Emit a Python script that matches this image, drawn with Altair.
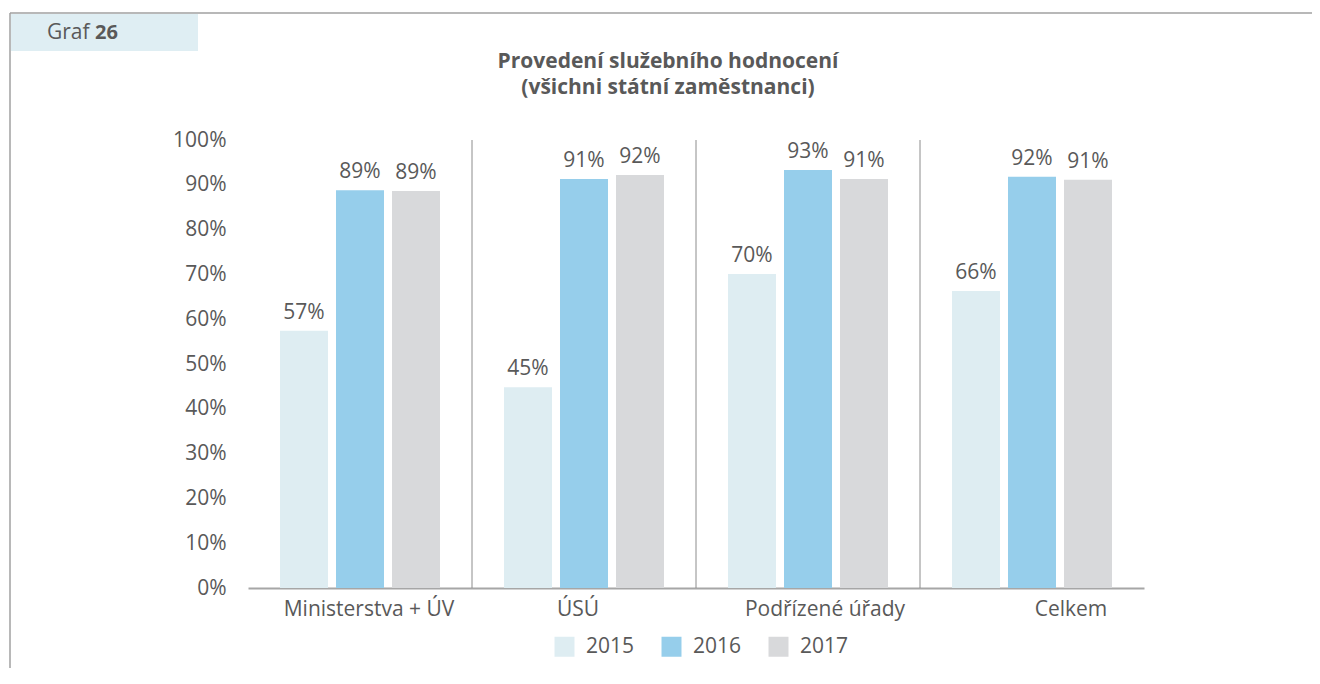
import altair as alt
import pandas as pd

categories = ["Ministerstva + ÚV", "ÚSÚ", "Podřízené úřady", "Celkem"]
years = ["2015", "2016", "2017"]
values_2015 = [0.574, 0.448, 0.701, 0.663]
values_2016 = [0.888, 0.913, 0.933, 0.918]
values_2017 = [0.886, 0.922, 0.913, 0.911]
y_ticks = [0.0, 0.1, 0.2, 0.3, 0.4, 0.5, 0.6, 0.7, 0.8, 0.9, 1.0]
title_line1 = "Provedení služebního hodnocení"
title_line2 = "(všichni státní zaměstnanci)"
colors = ["#DEEDF2", "#96CEEB", "#D8D9DB"]

rows = []
for i, c in enumerate(categories):
    for yr, vals in zip(years, [values_2015, values_2016, values_2017]):
        rows.append({"category": c, "year": yr, "value": vals[i]})
df = pd.DataFrame(rows)

FONT = "Open Sans"
TEXT = "#595959"
FS = 21

x_axis = alt.Axis(
    title=None, labelAngle=0, labelFontSize=FS, labelColor=TEXT, labelFont=FONT,
    labelPadding=10, ticks=False, domain=True, domainColor="#A6A6A6", domainWidth=2,
    grid=False,
    labelOffset={"condition": [
        {"test": "datum.value === 'Ministerstva + ÚV'", "value": 9},
        {"test": "datum.value === 'ÚSÚ'", "value": -6},
        {"test": "datum.value === 'Podřízené úřady'", "value": 17},
        {"test": "datum.value === 'Celkem'", "value": 39},
    ], "value": 0},
)
x_scale = alt.Scale(paddingInner=0, paddingOuter=0)
y_enc = alt.Y(
    "value:Q",
    scale=alt.Scale(domain=[0, 1], nice=False),
    axis=alt.Axis(format=".0%", values=y_ticks, title=None, domain=False, ticks=False,
                  labelFontSize=FS, labelColor=TEXT, labelFont=FONT, labelPadding=22,
                  gridColor="#BFBFBF", gridWidth=1),
)
xoff = alt.XOffset("year:N", sort=years, scale=alt.Scale(paddingInner=0.143, paddingOuter=0.571))

bars = alt.Chart(df).mark_bar().encode(
    x=alt.X("category:N", sort=categories, scale=x_scale, axis=x_axis),
    xOffset=xoff,
    y=y_enc,
    color=alt.Color("year:N", sort=years, scale=alt.Scale(domain=years, range=colors),
                    legend=alt.Legend(title=None, orient="none", legendX=306, legendY=496,
                                      direction="horizontal", symbolType="square",
                                      symbolSize=400, symbolStrokeWidth=0,
                                      labelFontSize=FS, labelColor=TEXT, labelFont=FONT,
                                      columnPadding=26, labelOffset=11)),
)

labels = alt.Chart(df).mark_text(baseline="bottom", dy=-8, fontSize=FS, color=TEXT, font=FONT).encode(
    x=alt.X("category:N", sort=categories, scale=x_scale, axis=x_axis),
    xOffset=xoff,
    y=alt.Y("value:Q"),
    text=alt.Text("value:Q", format=".0%"),
)

seps = alt.Chart(pd.DataFrame({"category": categories[1:]})).mark_rule(color="#8C8C8C", strokeWidth=1).encode(
    x=alt.X("category:N", sort=categories, scale=x_scale, axis=x_axis, bandPosition=0),
    y=alt.datum(1),
    y2=alt.datum(0),
)

one = pd.DataFrame({"a": [0]})
frame_top = alt.Chart(one).mark_rule(color="#A0A0A0", strokeWidth=1.5).encode(
    x=alt.value(-238), x2=alt.value(1100), y=alt.value(-127))
frame_left = alt.Chart(one).mark_rule(color="#A0A0A0", strokeWidth=1.5).encode(
    x=alt.value(-238), y=alt.value(-127), y2=alt.value(560))
header = alt.Chart(one).mark_rect(color="#DFEEF3").encode(
    x=alt.value(-237), x2=alt.value(-50), y=alt.value(-126), y2=alt.value(-89))
graf = alt.Chart(one).mark_text(align="left", baseline="middle", fontSize=FS, color=TEXT, font=FONT).encode(
    x=alt.value(-201), y=alt.value(-107), text=alt.value("Graf"))
num = alt.Chart(one).mark_text(align="left", baseline="middle", fontSize=FS - 1, fontWeight="bold", color=TEXT, font=FONT).encode(
    x=alt.value(-153), y=alt.value(-107), text=alt.value("26"))
t1 = alt.Chart(one).mark_text(align="center", baseline="middle", fontSize=21, fontWeight="bold", color=TEXT, font=FONT).encode(
    x=alt.value(420), y=alt.value(-78), text=alt.value(title_line1))
t2 = alt.Chart(one).mark_text(align="center", baseline="middle", fontSize=21, fontWeight="bold", color=TEXT, font=FONT).encode(
    x=alt.value(420), y=alt.value(-52), text=alt.value(title_line2))

chart = alt.layer(seps, bars, labels, header, frame_top, frame_left, graf, num, t1, t2).properties(
    width=896, height=448,
    autosize=alt.AutoSizeParams(type="none"),
    padding={"left": 240, "top": 132, "right": 168, "bottom": 80},
).configure_view(stroke=None)

chart.save("out.html", embed_options={"renderer": "svg", "actions": False})
